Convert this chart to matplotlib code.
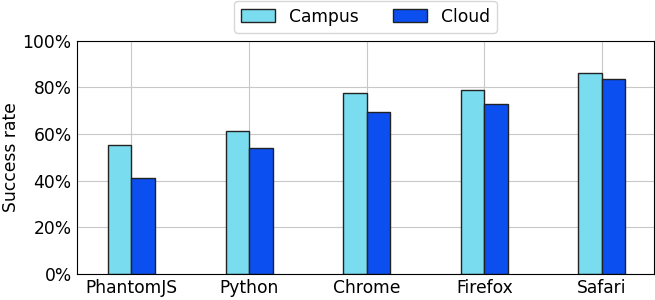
import numpy as np
import matplotlib
matplotlib.use('Agg')
import matplotlib.pyplot as plt
from matplotlib.ticker import PercentFormatter

browsers = ['PhantomJS', 'Python', 'Chrome', 'Firefox', 'Safari']
campus = [55.3, 61.1, 77.6, 78.8, 86.0]
cloud = [41.2, 54.0, 69.4, 73.0, 83.6]

fig = plt.figure(figsize=(6.55, 3.0), dpi=100)
ax = fig.add_axes([0.118, 0.087, 0.880, 0.777])

x = np.arange(len(browsers))
w = 0.2
ax.bar(x - w / 2, campus, w, color='#79dcef', edgecolor='#222222', linewidth=1.0, label='Campus')
ax.bar(x + w / 2, cloud, w, color='#0b4ff0', edgecolor='#222222', linewidth=1.0, label='Cloud')

ax.set_axisbelow(True)
ax.grid(True, color='#c8c8c8', linewidth=0.8)
ax.set_xlim(-0.46, 4.44)
ax.set_ylim(0, 100)
ax.set_yticks([0, 20, 40, 60, 80, 100])
ax.yaxis.set_major_formatter(PercentFormatter(decimals=0))
ax.set_xticks(x)
ax.set_xticklabels(browsers)
ax.tick_params(labelsize=12.3, length=0, pad=4)
ax.set_ylabel('Success rate', fontsize=12.3, labelpad=2)

ax.legend(loc='lower center', bbox_to_anchor=(0.5, 1.02), ncol=2, fontsize=12.3,
          handlelength=2.0, handleheight=0.8, columnspacing=2.0,
          borderaxespad=0.2, frameon=True)

fig.savefig('out.png', dpi=100)
